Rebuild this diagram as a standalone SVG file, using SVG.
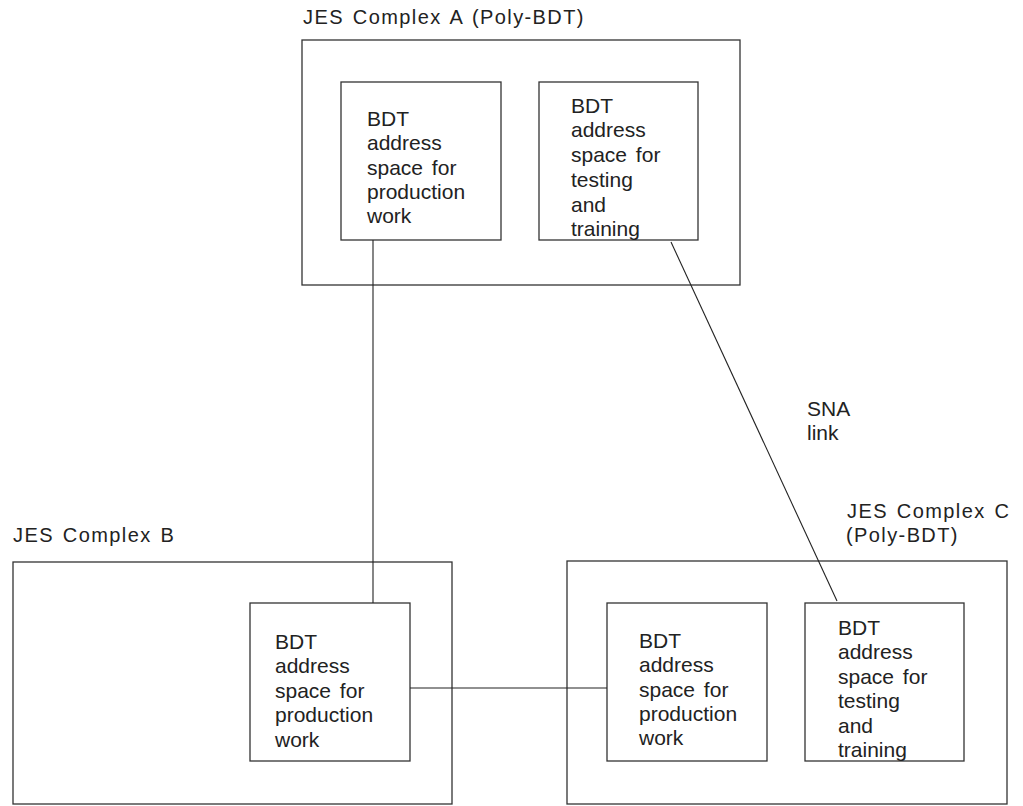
<svg xmlns="http://www.w3.org/2000/svg" width="1023" height="806" viewBox="0 0 1023 806">
<style>
.box{fill:none;stroke:#333;stroke-width:1.3}
.ln{fill:none;stroke:#222;stroke-width:1.1}
.t{font-family:"Liberation Sans",Arial,sans-serif;font-size:21px;fill:#222;word-spacing:3px}
.h{font-family:"Liberation Sans",Arial,sans-serif;font-size:20px;fill:#222;letter-spacing:1.4px;word-spacing:2px}
</style>
<rect width="1023" height="806" fill="#fff"/>
<g id="complexA">
<text class="h" x="303" y="24">JES Complex A (Poly-BDT)</text>
<rect class="box" x="302" y="40" width="438" height="245"/>
</g>
<g id="A_prod">
<rect class="box" x="341" y="82" width="160" height="158"/>
<text class="t"><tspan x="367" y="126">BDT</tspan><tspan x="367" y="150">address</tspan><tspan x="367" y="175">space for</tspan><tspan x="367" y="199">production</tspan><tspan x="367" y="223">work</tspan></text>
</g>
<g id="A_test">
<rect class="box" x="539" y="82" width="159" height="158"/>
<text class="t"><tspan x="571" y="113">BDT</tspan><tspan x="571" y="137">address</tspan><tspan x="571" y="162">space for</tspan><tspan x="571" y="187">testing</tspan><tspan x="571" y="212">and</tspan><tspan x="571" y="236">training</tspan></text>
</g>
<g id="complexB">
<text class="h" x="13" y="542">JES Complex B</text>
<rect class="box" x="13" y="562" width="439" height="242"/>
</g>
<g id="B_prod">
<rect class="box" x="250" y="603" width="160" height="158"/>
<text class="t"><tspan x="275" y="649">BDT</tspan><tspan x="275" y="673">address</tspan><tspan x="275" y="698">space for</tspan><tspan x="275" y="722">production</tspan><tspan x="275" y="747">work</tspan></text>
</g>
<g id="complexC">
<text class="h"><tspan x="847" y="518">JES Complex C</tspan><tspan x="846" y="542">(Poly-BDT)</tspan></text>
<rect class="box" x="567" y="561" width="440" height="243"/>
</g>
<g id="C_prod">
<rect class="box" x="607" y="603" width="160" height="158"/>
<text class="t"><tspan x="639" y="648">BDT</tspan><tspan x="639" y="672">address</tspan><tspan x="639" y="697">space for</tspan><tspan x="639" y="721">production</tspan><tspan x="639" y="745">work</tspan></text>
</g>
<g id="C_test">
<rect class="box" x="805" y="603" width="159" height="158"/>
<text class="t"><tspan x="838" y="635">BDT</tspan><tspan x="838" y="659">address</tspan><tspan x="838" y="684">space for</tspan><tspan x="838" y="708">testing</tspan><tspan x="838" y="733">and</tspan><tspan x="838" y="757">training</tspan></text>
</g>
<g id="connectors">
<line class="ln" x1="373" y1="240" x2="373" y2="603"/>
<line class="ln" x1="410" y1="688" x2="607" y2="688"/>
<line class="ln" x1="671" y1="242" x2="837" y2="601"/>
<text class="t"><tspan x="807" y="416">SNA</tspan><tspan x="807" y="440">link</tspan></text>
</g>
</svg>
